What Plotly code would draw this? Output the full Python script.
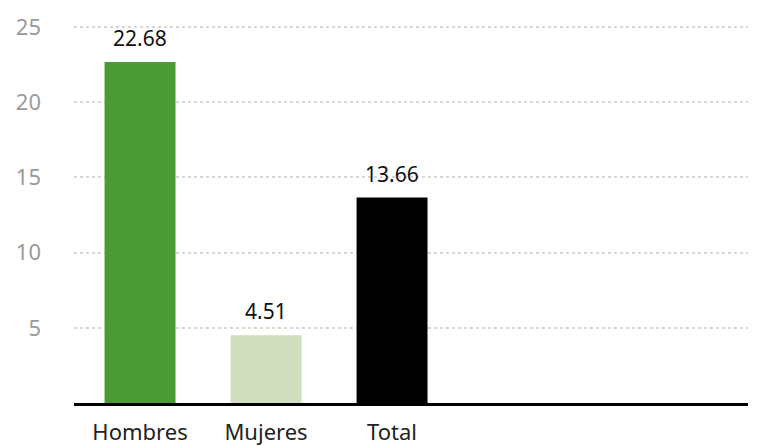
import plotly.graph_objects as go

categories = ['Hombres', 'Mujeres', 'Total']
values = [22.68, 4.51, 13.66]
colors = ['#4b9a34', '#d1ddbf', '#000000']
y_ticks = [5, 10, 15, 20, 25]

xs = list(range(len(categories)))

fig = go.Figure(go.Bar(
    x=xs,
    y=values,
    marker=dict(color=colors, line=dict(width=0)),
    width=0.563,
    hoverinfo='x+y',
))

# value labels above bars
for x, v in zip(xs, values):
    fig.add_annotation(
        x=x, y=v, text=f'{v:.2f}',
        showarrow=False, yanchor='bottom', yshift=8,
        font=dict(color='#111111', size=21),
    )

fig.update_layout(
    width=762, height=446,
    margin=dict(l=66, r=22, t=12, b=51),
    plot_bgcolor='white', paper_bgcolor='white',
    font=dict(family='Noto Sans', size=21),
    showlegend=False,
)

fig.update_xaxes(
    range=[-0.524, 4.825],
    tickvals=xs,
    ticktext=categories,
    tickfont=dict(color='#222222', size=22),
    showgrid=False,
    showline=True, linecolor='#000000', linewidth=3,
    ticks='outside', ticklen=8, tickcolor='white',
    automargin=False,
)

fig.update_yaxes(
    range=[0, 25.47],
    tickvals=y_ticks,
    tickfont=dict(color='#9a9a9a', size=22),
    showgrid=True, gridcolor='#d6d6d6', gridwidth=2, griddash='dot',
    zeroline=False,
    ticklabelstandoff=32,
    automargin=False,
)

fig.write_html('out.html')
